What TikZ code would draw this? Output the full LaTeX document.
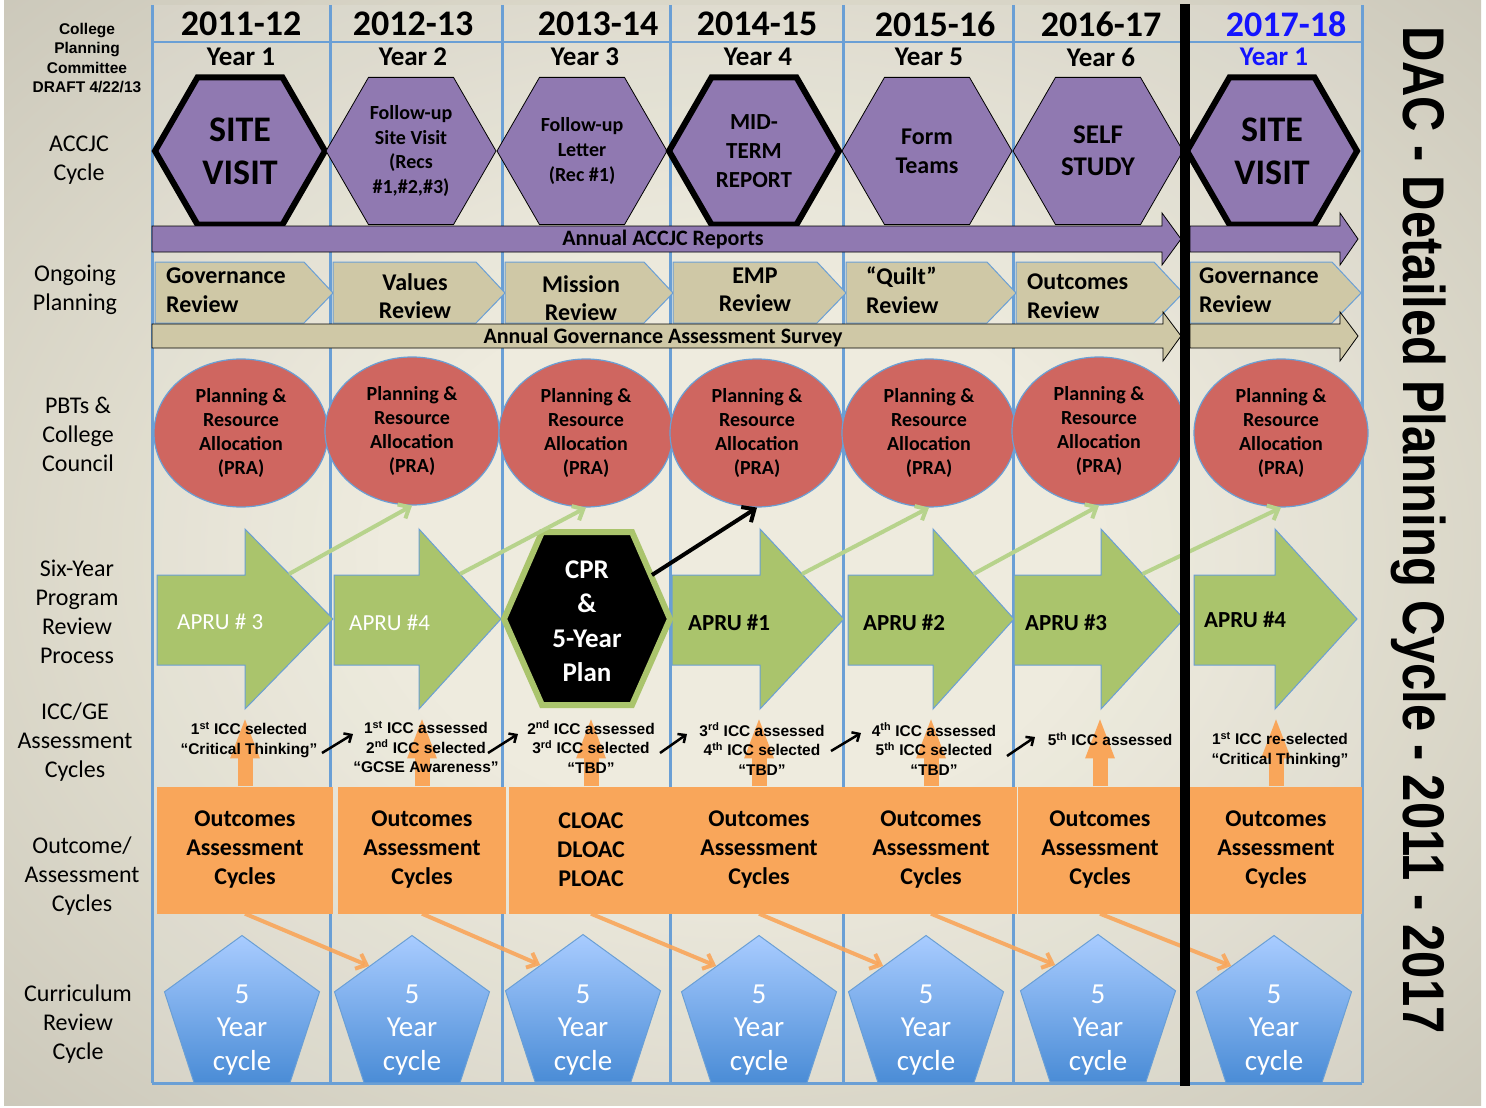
\documentclass[tikz,border=0pt]{standalone}
\usepackage{fontspec}
\setmainfont{Carlito}
\newfontfamily\arialfont{Liberation Sans}
\usetikzlibrary{arrows.meta,shapes.geometric}
\newcommand\fsz[2]{\fontsize{#1}{#2}\selectfont}
\definecolor{gridblue}{HTML}{6A9FD5}
\definecolor{accpurple}{HTML}{9079B1}
\definecolor{planbeige}{HTML}{CFC8A6}
\definecolor{prared}{HTML}{CF6660}
\definecolor{aprugreen}{HTML}{AAC46C}
\definecolor{linkgreen}{HTML}{B7D38C}
\definecolor{oacorange}{HTML}{F9A65A}
\definecolor{cyctop}{HTML}{A9CCFF}
\definecolor{cycbot}{HTML}{4A8CD6}
\definecolor{bgin}{HTML}{ECE9DA}
\definecolor{bgout}{HTML}{9A968A}
\definecolor{nextblue}{HTML}{1414FF}
\pgfdeclareradialshading{bgshade}{\pgfpoint{0bp}{0bp}}{color(0bp)=(bgin); color(12bp)=(bgin); color(72bp)=(bgout)}

\begin{document}
\begin{tikzpicture}[x=1pt,y=-1pt]
	\tikzstyle{grid}=[gridblue,line width=3pt]
	\tikzstyle{hexa}=[regular polygon,regular polygon sides=6,minimum size=170pt,inner sep=0pt,fill=accpurple,draw=black,line width=0.8pt,align=center]
	\tikzstyle{hexthick}=[hexa,line width=6pt]
	\tikzstyle{bigarrow}=[draw=black,line width=0.8pt]
	\tikzstyle{plan}=[fill=planbeige,draw=gridblue,line width=1pt]
	\tikzstyle{plantext}=[font=\bfseries\fsz{24}{28.5},align=center,inner sep=0pt]
	\tikzstyle{pra}=[ellipse,minimum width=174pt,minimum height=148pt,fill=prared,draw=gridblue,line width=1.2pt,inner sep=0pt,align=center,font=\bfseries\fsz{20}{24}]
	\tikzstyle{apru}=[fill=aprugreen,draw=gridblue,line width=1pt]
	\tikzstyle{aprutext}=[font=\bfseries\fsz{23}{26},anchor=west,inner sep=0pt]
	\tikzstyle{link}=[linkgreen,line width=4pt,-{Straight Barb[length=9pt,width=16pt]}]
	\tikzstyle{oac}=[rectangle,fill=oacorange,minimum height=127pt,inner sep=0pt,align=center,font=\bfseries\fsz{24}{29}]
	\tikzstyle{uparrow}=[oacorange,line width=15pt,-{Triangle[length=42pt,width=26pt]}]
	\tikzstyle{icc}=[font=\arialfont\bfseries\fsz{15.5}{19.5},align=center,inner sep=0pt]
	\tikzstyle{iccarrow}=[black,line width=2.5pt,-{Straight Barb[length=6pt,width=11pt]}]
	\tikzstyle{cyc}=[regular polygon,regular polygon sides=5,minimum size=163pt,inner sep=0pt,top color=cyctop,bottom color=cycbot,draw=gridblue,line width=1pt]
	\tikzstyle{cyctext}=[font=\fsz{29}{33.5},text=white,align=center,inner sep=0pt]
	\tikzstyle{flow}=[oacorange,line width=4pt,opacity=0.9,-{Straight Barb[length=9pt,width=16pt]}]
	\tikzstyle{yearhead}=[font=\bfseries\fsz{36}{40},inner sep=0pt]
	\tikzstyle{yearnum}=[font=\bfseries\fsz{27}{30},inner sep=0pt]
	\tikzstyle{rowlabel}=[font=\fsz{24}{29},align=center,inner sep=0pt]

	\useasboundingbox (0,0) rectangle (1486,1108);
	\fill[white] (0,0) rectangle (1486,1108);
	\shade[shading=bgshade] (4,0) rectangle (1481,1105);
	\fill[white,opacity=0.12] (152,5) rectangle (1362,1083);

	\foreach \x in {152,330,502,670,843,1013,1362}
		\draw[grid] (\x,5) -- (\x,1083);
	\draw[gridblue,line width=2pt] (152,42) -- (1362,42);
	\draw[grid] (152,1083) -- (1362,1083);

	\node[hexthick,font=\bfseries\fsz{36}{43}] (acc1) at (240,151) {SITE\\VISIT};
	\node[hexa,font=\bfseries\fsz{20}{24.5}] (acc2) at (411,151) {Follow-up\\Site Visit\\(Recs\\\#1,\#2,\#3)};
	\node[hexa,font=\bfseries\fsz{20}{25}] (acc3) at (582,151) {Follow-up\\Letter\\(Rec \#1)};
	\node[hexthick,font=\bfseries\fsz{23}{29}] (acc4) at (754,151) {MID-\\TERM\\REPORT};
	\node[hexa,font=\bfseries\fsz{24}{29}] (acc5) at (927,151) {Form\\Teams};
	\node[hexa,font=\bfseries\fsz{27}{32}] (acc6) at (1098,151) {SELF\\STUDY};
	\node[hexthick,font=\bfseries\fsz{36}{43}] (acc7) at (1272,151) {SITE\\VISIT};

	\filldraw[bigarrow,fill=accpurple] (152,226) -- (1162,226) -- (1162,213) -- (1181,239) -- (1162,265) -- (1162,252) -- (152,252) -- cycle;
	\filldraw[bigarrow,fill=accpurple] (1190,226) -- (1340,226) -- (1340,213) -- (1358,239) -- (1340,265) -- (1340,252) -- (1190,252) -- cycle;
	\node[font=\bfseries\fsz{22}{26},inner sep=0pt] (rep) at (663,240) {Annual ACCJC Reports};

	\foreach \xl/\xr in {152/330,330/502,502/670,670/843,843/1013,1013/1180,1187/1358}
		\filldraw[plan] ({\xl+3},262) -- ({\xr-26},262) -- ({\xr+3},293) -- ({\xr-26},323) -- ({\xl+3},323) -- cycle;
	\node[plantext,anchor=west,align=left] (gov1) at (166,290) {Governance\\Review};
	\node[plantext] (val) at (415,296) {Values\\Review};
	\node[plantext] (mis) at (581,298) {Mission\\Review};
	\node[plantext] (emp) at (755,290) {EMP\\Review};
	\node[plantext,anchor=west,align=left] (qui) at (866,290) {“Quilt”\\Review};
	\node[plantext,anchor=west,align=left] (out) at (1027,296) {Outcomes\\Review};
	\node[plantext,anchor=west,align=left] (gov7) at (1199,290) {Governance\\Review};

	\filldraw[bigarrow,fill=planbeige] (152,324) -- (1163,324) -- (1163,312) -- (1181,336) -- (1163,361) -- (1163,348) -- (152,348) -- cycle;
	\filldraw[bigarrow,fill=planbeige] (1190,324) -- (1340,324) -- (1340,312) -- (1358,336) -- (1340,361) -- (1340,348) -- (1190,348) -- cycle;
	\node[font=\bfseries\fsz{22}{26},inner sep=0pt] (sur) at (663,338) {Annual Governance Assessment Survey};

	\foreach \x/\xc/\yc in {1/241/433,2/412/431,3/586/433,4/757/433,5/929/433,6/1099/431,7/1281/433}
		\node[pra] (pra\x) at (\xc,\yc) {Planning \&\\Resource\\Allocation\\(PRA)};

	\foreach \x/\xl/\xc/\xr in {1/157/245/333,2/334/419/501,4/672/760/844,5/848/933/1014,6/1014/1101/1184,7/1194/1275/1357}{
		\filldraw[apru] (\xl,575) -- (\xc,575) -- (\xc,529) -- (\xr,619) -- (\xc,709) -- (\xc,665) -- (\xl,665) -- cycle;
		\coordinate (up\x) at ({\xc+0.5*(\xr-\xc)},574);
	}
	\node[font=\fsz{23}{26},text=white,anchor=west,inner sep=0pt] (ap1) at (177,622) {APRU \# 3};
	\node[font=\fsz{23}{26},text=white,anchor=west,inner sep=0pt] (ap2) at (349,623) {APRU \#4};
	\node[aprutext] (ap4) at (688,623) {APRU \#1};
	\node[aprutext] (ap5) at (863,623) {APRU \#2};
	\node[aprutext] (ap6) at (1025,623) {APRU \#3};
	\node[aprutext] (ap7) at (1204,620) {APRU \#4};

	\filldraw[fill=black,draw=aprugreen,line width=6pt] (504,619) -- (542,532) -- (632,532) -- (670,619) -- (632,705) -- (542,705) -- cycle;
	\node[font=\bfseries\fsz{27}{34.5},text=white,align=center,inner sep=0pt] (cpr) at (587,621) {CPR\\\&\\5-Year\\Plan};
	\coordinate (cprne) at (652,575);

	\draw[link] (up1) -- (pra2.south);
	\draw[link] (up2) -- (pra3.south);
	\draw[link] (up4) -- (pra5.south);
	\draw[link] (up5) -- (pra6.south);
	\draw[link] (up6) -- (pra7.south);
	\draw[black,line width=4pt,-{Straight Barb[length=10pt,width=18pt]}] (cprne) -- (pra4.south);

	\foreach \x/\xc/\bw in {1/245/176,2/422/168,4/759/172,5/931/172,6/1100/165,7/1276/172}
		\node[oac,minimum width=\bw pt] (oac\x) at (\xc,850) {Outcomes\\Assessment\\Cycles};
	\node[oac,minimum width=164pt] (oac3) at (591,850) {CLOAC\\DLOAC\\PLOAC};
	\foreach \x in {1,...,7}
		\draw[uparrow] (oac\x.north) -- ++(0,-70);

	\node[icc] (icc1) at (249,740) {1\textsuperscript{st} ICC selected\\“Critical Thinking”};
	\node[icc] (icc2) at (426,747) {1\textsuperscript{st} ICC assessed\\2\textsuperscript{nd} ICC selected\\“GCSE Awareness”};
	\node[icc] (icc3) at (591,747) {2\textsuperscript{nd} ICC assessed\\3\textsuperscript{rd} ICC selected\\“TBD”};
	\node[icc] (icc4) at (762,749) {3\textsuperscript{rd} ICC assessed\\4\textsuperscript{th} ICC selected\\“TBD”};
	\node[icc] (icc5) at (934,749) {4\textsuperscript{th} ICC assessed\\5\textsuperscript{th} ICC selected\\“TBD”};
	\node[icc] (icc6) at (1110,739) {5\textsuperscript{th} ICC assessed};
	\node[icc] (icc7) at (1280,750) {1\textsuperscript{st} ICC re-selected\\“Critical Thinking”};
	\foreach \x/\xa/\ya/\xb/\yb in {1/322/753/353/734,2/488/753/518/734,3/660/753/687/734,4/831/751/861/733,5/1007/756/1035/737}{
		\coordinate (ia\x) at (\xa,\ya);
		\coordinate (ib\x) at (\xb,\yb);
		\draw[iccarrow] (ia\x) -- (ib\x);
	}

	\foreach \x/\xc/\yc in {1/242/1017,2/412/1017,3/583/1016,4/759/1017,5/926/1017,6/1098/1016,7/1274/1017}{
		\node[cyc] (cyc\x) at (\xc,\yc) {};
		\node[cyctext] (cyt\x) at (\xc,1030) {5\\Year\\cycle};
	}
	\foreach \x/\y in {1/2,2/3,3/4,4/5,5/6,6/7}
		\draw[flow] (oac\x.south) -- (cyc\y.130);

	\draw[line width=10pt] (1185,4) -- (1185,1086);

	\foreach \x/\xc/\txt in {1/241/2011-12,2/413/2012-13,3/598/2013-14,4/757/2014-15,5/935/2015-16,6/1101/2016-17}
		\node[yearhead] (yr\x) at (\xc,24) {\txt};
	\node[yearhead,text=nextblue] (yr7) at (1286,24) {2017-18};
	\foreach \x/\xc in {1/241,2/413,3/585,4/758,5/929,6/1101}
		\node[yearnum] (yn\x) at (\xc,57) {Year \x};
	\node[yearnum,text=nextblue] (yn7) at (1274,57) {Year 1};

	\node[font=\arialfont\bfseries\fsz{15.5}{19.5},align=center,inner sep=0pt] (draft) at (87,58) {College\\Planning\\Committee\\DRAFT 4/22/13};
	\node[rowlabel] (lacc) at (79,160) {ACCJC\\Cycle};
	\node[rowlabel] (lplan) at (75,290) {Ongoing\\Planning};
	\node[rowlabel] (lpbt) at (78,434) {PBTs \&\\College\\Council};
	\node[rowlabel] (lsix) at (77,612) {Six-Year\\Program\\Review\\Process};
	\node[rowlabel] (licc) at (75,742) {ICC/GE\\Assessment\\Cycles};
	\node[rowlabel] (loac) at (82,876) {Outcome/\\Assessment\\Cycles};
	\node[rowlabel] (lcur) at (78,1024) {Curriculum\\Review\\Cycle};

	\node[rotate=-90,font=\arialfont\bfseries\fsz{49}{55},inner sep=0pt] (title) at (1419,530) {\scalebox{1}[1.2]{DAC - Detailed Planning Cycle - 2011 - 2017}};
\end{tikzpicture}
\end{document}
